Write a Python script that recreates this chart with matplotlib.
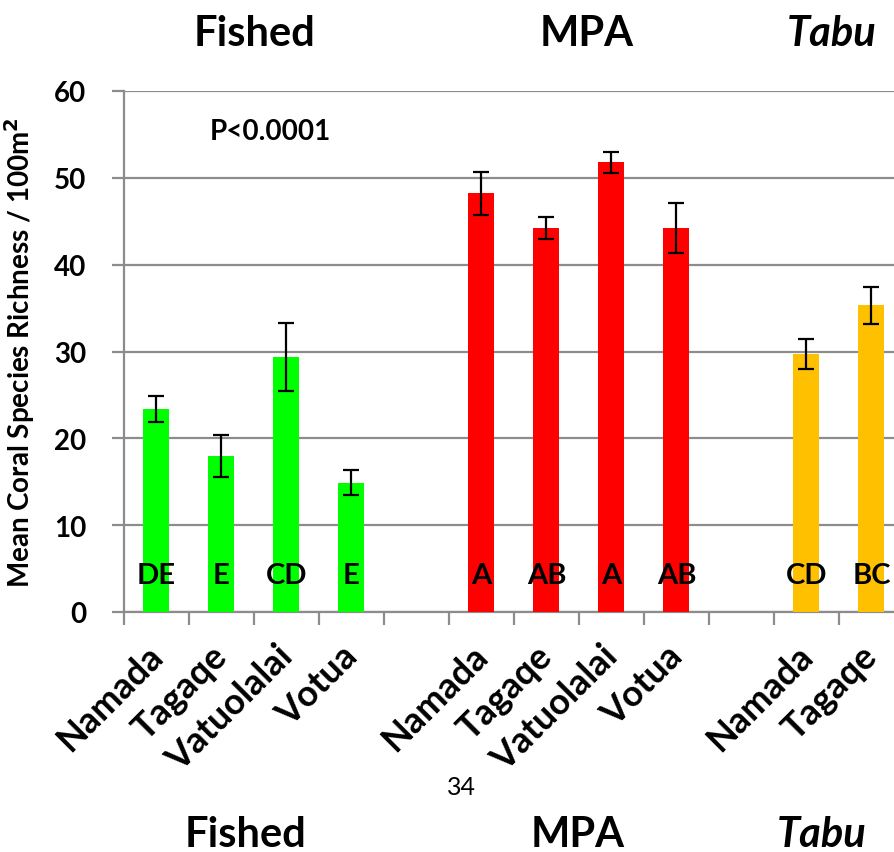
import matplotlib
matplotlib.use("Agg")
import matplotlib.pyplot as plt
from matplotlib.transforms import ScaledTranslation
import numpy as np

# ---- data ----
sites = ["Namada", "Tagaqe", "Vatuolalai", "Votua",
         "Namada", "Tagaqe", "Vatuolalai", "Votua",
         "Namada", "Tagaqe"]
groups = ["Fished", "MPA", "Tabu"]
group_sizes = [4, 4, 2]
means = [23.4, 18.0, 29.4, 14.9, 48.2, 44.2, 51.8, 44.2, 29.7, 35.3]
errors = [1.5, 2.4, 3.9, 1.4, 2.5, 1.25, 1.2, 2.9, 1.7, 2.15]
letters = ["DE", "E", "CD", "E", "A", "AB", "A", "AB", "CD", "BC"]
group_colors = ["#00FF00", "#FF0000", "#FFC000"]
yticks = [0, 10, 20, 30, 40, 50, 60]
p_text = "P<0.0001"
ylabel = "Mean Coral Species Richness / 100m$^{\\mathbf{2}}$"
page_number = "34"

plt.rcParams['font.family'] = ['Lato', 'DejaVu Sans']

W, H = 895, 853
fig = plt.figure(figsize=(W / 100, H / 100), dpi=100)
ax_left, ax_right, ax_top, ax_bottom = 124, 904, 92, 613
ax = fig.add_axes([ax_left / W, 1 - ax_bottom / H,
                   (ax_right - ax_left) / W, (ax_bottom - ax_top) / H])

# positions: one empty slot between groups
xpos, colors = [], []
start = 0
for g, n in enumerate(group_sizes):
    for k in range(n):
        xpos.append(start + k)
        colors.append(group_colors[g])
    start += n + 1
xpos = np.array(xpos)
nslots = start - 1

ax.bar(xpos, means, width=0.4, color=colors, zorder=3)
ax.errorbar(xpos, means, yerr=errors, fmt='none', ecolor='black',
            elinewidth=1.6, capsize=6, capthick=1.6, zorder=4)

for x, lt in zip(xpos, letters):
    ax.text(x, 3.3, lt, ha='center', va='baseline', fontsize=21,
            fontweight='bold', color='black', zorder=5)

ax.set_xlim(-0.5, nslots - 0.5)
ax.set_ylim(0, 60)
ax.set_yticks(yticks)
ax.set_yticklabels([str(v) for v in yticks], fontsize=20, fontweight='bold')
ax.yaxis.grid(True, color='#8c8c8c', linewidth=1.6, zorder=0)
ax.set_axisbelow(True)

# boundary ticks (no labels), category labels on minor ticks
ax.set_xticks(np.arange(-0.5, nslots, 1.0))
ax.set_xticklabels([])
ax.set_xticks(xpos, minor=True)
ax.set_xticklabels(sites, minor=True, rotation=45, ha='right',
                   rotation_mode='anchor', fontsize=26, fontweight='bold')
ax.tick_params(axis='x', which='minor', length=0, pad=19)
ax.tick_params(axis='x', which='major', length=9, width=1.6, color='#8c8c8c',
               direction='out')
ax.tick_params(axis='y', length=9, width=1.6, color='#8c8c8c', pad=18)
shift = ScaledTranslation(-11 / 100, 0, fig.dpi_scale_trans)
for lbl in ax.get_xticklabels(minor=True):
    lbl.set_transform(lbl.get_transform() + shift)

for s in ['top', 'right']:
    ax.spines[s].set_visible(False)
for s in ['left', 'bottom']:
    ax.spines[s].set_color('#8c8c8c')
    ax.spines[s].set_linewidth(1.6)

ax.set_ylabel(ylabel, fontsize=20, fontweight='bold')
ax.yaxis.set_label_coords(-(ax_left - 37) / (ax_right - ax_left), 0.5)

ax.text(1.75, 55.4, p_text, ha='center', va='center', fontsize=20,
        fontweight='bold')

# group titles top and bottom
top_x = [255, 587, 832]
bot_x = [246, 578, 822]
for g, name in enumerate(groups):
    style = 'italic' if name == 'Tabu' else 'normal'
    fig.text(top_x[g] / W, 1 - 46 / H, name, ha='center', va='baseline',
             fontsize=30, fontweight='bold', style=style)
    fig.text(bot_x[g] / W, 1 - 847 / H, name, ha='center', va='baseline',
             fontsize=30, fontweight='bold', style=style)

fig.text(461 / W, 1 - 788 / H, page_number, ha='center', va='center',
         fontsize=18)

fig.savefig("out.png", dpi=100)
